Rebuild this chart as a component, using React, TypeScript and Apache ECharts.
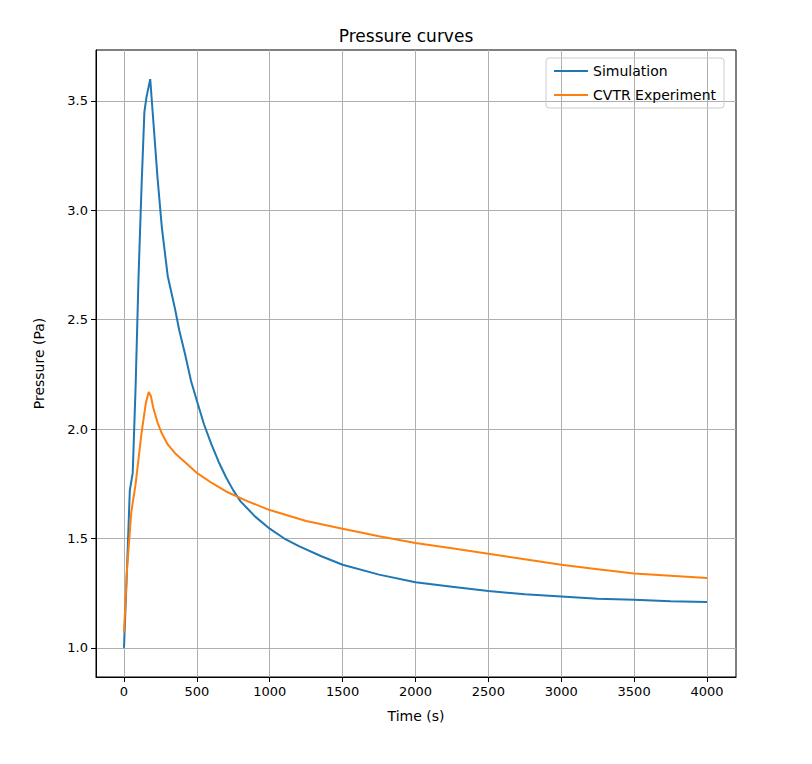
import React, { useEffect, useRef } from 'react';
import * as echarts from 'echarts';

const simT = [0, 20, 40, 60, 80, 100, 120, 140, 155, 180, 200, 230, 260, 300, 350, 380, 420, 460, 500, 550, 600, 650, 700, 750, 800, 900, 1000, 1100, 1200, 1350, 1500, 1750, 2000, 2250, 2500, 2750, 3000, 3250, 3500, 3750, 4000];
const simP = [1.0, 1.35, 1.72, 1.8, 2.2, 2.7, 3.1, 3.45, 3.52, 3.6, 3.42, 3.15, 2.92, 2.7, 2.55, 2.45, 2.34, 2.22, 2.13, 2.02, 1.93, 1.85, 1.78, 1.72, 1.67, 1.6, 1.545, 1.5, 1.465, 1.42, 1.38, 1.335, 1.3, 1.28, 1.26, 1.245, 1.235, 1.225, 1.22, 1.213, 1.21];
const expT = [0, 20, 50, 80, 120, 150, 170, 185, 200, 230, 260, 300, 350, 400, 450, 500, 600, 700, 850, 1000, 1250, 1500, 1750, 2000, 2250, 2500, 2750, 3000, 3250, 3500, 3750, 4000];
const expP = [1.07, 1.35, 1.62, 1.75, 1.98, 2.12, 2.17, 2.15, 2.1, 2.03, 1.98, 1.93, 1.89, 1.86, 1.83, 1.8, 1.755, 1.715, 1.67, 1.63, 1.58, 1.545, 1.51, 1.48, 1.455, 1.43, 1.405, 1.38, 1.36, 1.34, 1.33, 1.32];
const xTicks = [0, 500, 1000, 1500, 2000, 2500, 3000, 3500, 4000];
const yTicks = [1.0, 1.5, 2.0, 2.5, 3.0, 3.5];

const font = 'DejaVu Sans';

const App: React.FC = () => {
  const ref = useRef<HTMLDivElement>(null);

  useEffect(() => {
    document.body.style.margin = '0';
    if (!ref.current) return;
    const chart = echarts.init(ref.current, undefined, { renderer: 'svg' });
    chart.setOption({
      animation: false,
      textStyle: { fontFamily: font },
      title: { text: 'Pressure curves', left: 'center', top: 22, textStyle: { fontFamily: font, fontSize: 17, fontWeight: 'normal', color: '#000' } },
      legend: {
        right: 88, top: 58, orient: 'vertical', itemWidth: 34, itemHeight: 2, itemGap: 10,
        borderColor: '#ccc', borderWidth: 1, borderRadius: 3, padding: [6, 8],
        textStyle: { fontFamily: font, fontSize: 14, color: '#000' },
        data: [{ name: 'Simulation', icon: 'rect' }, { name: 'CVTR Experiment', icon: 'rect' }],
      },
      grid: { left: 96, right: 76, top: 50, bottom: 87, show: true, borderColor: '#000', borderWidth: 1 },
      xAxis: {
        type: 'value', min: -192, max: 4199,
        name: 'Time (s)', nameLocation: 'middle', nameGap: 32,
        nameTextStyle: { fontFamily: font, fontSize: 14, color: '#000' },
        axisLine: { onZero: false, lineStyle: { color: '#000' } },
        axisTick: { show: true, customValues: xTicks, length: 5, lineStyle: { color: '#000' } },
        axisLabel: { customValues: xTicks, formatter: (v: number) => String(v), fontFamily: font, fontSize: 13, color: '#000' },
        splitLine: { show: true, lineStyle: { color: '#b0b0b0' } },
      },
      yAxis: {
        type: 'value', min: 0.867, max: 3.733,
        name: 'Pressure (Pa)', nameLocation: 'middle', nameGap: 50,
        nameTextStyle: { fontFamily: font, fontSize: 14, color: '#000' },
        axisLine: { show: true, onZero: false, lineStyle: { color: '#000' } },
        axisTick: { show: true, customValues: yTicks, length: 5, lineStyle: { color: '#000' } },
        axisLabel: { customValues: yTicks, formatter: (v: number) => v.toFixed(1), fontFamily: font, fontSize: 13, color: '#000' },
        splitLine: { show: true, lineStyle: { color: '#b0b0b0' } },
      },
      series: [
        { name: 'Simulation', type: 'line', showSymbol: false, color: '#1f77b4', lineStyle: { width: 2 }, data: simT.map((t, i) => [t, simP[i]]) },
        { name: 'CVTR Experiment', type: 'line', showSymbol: false, color: '#ff7f0e', lineStyle: { width: 2 }, data: expT.map((t, i) => [t, expP[i]]) },
      ],
    });
    return () => chart.dispose();
  }, []);

  return <div ref={ref} style={{ width: 812, height: 764 }} />;
};

export default App;
